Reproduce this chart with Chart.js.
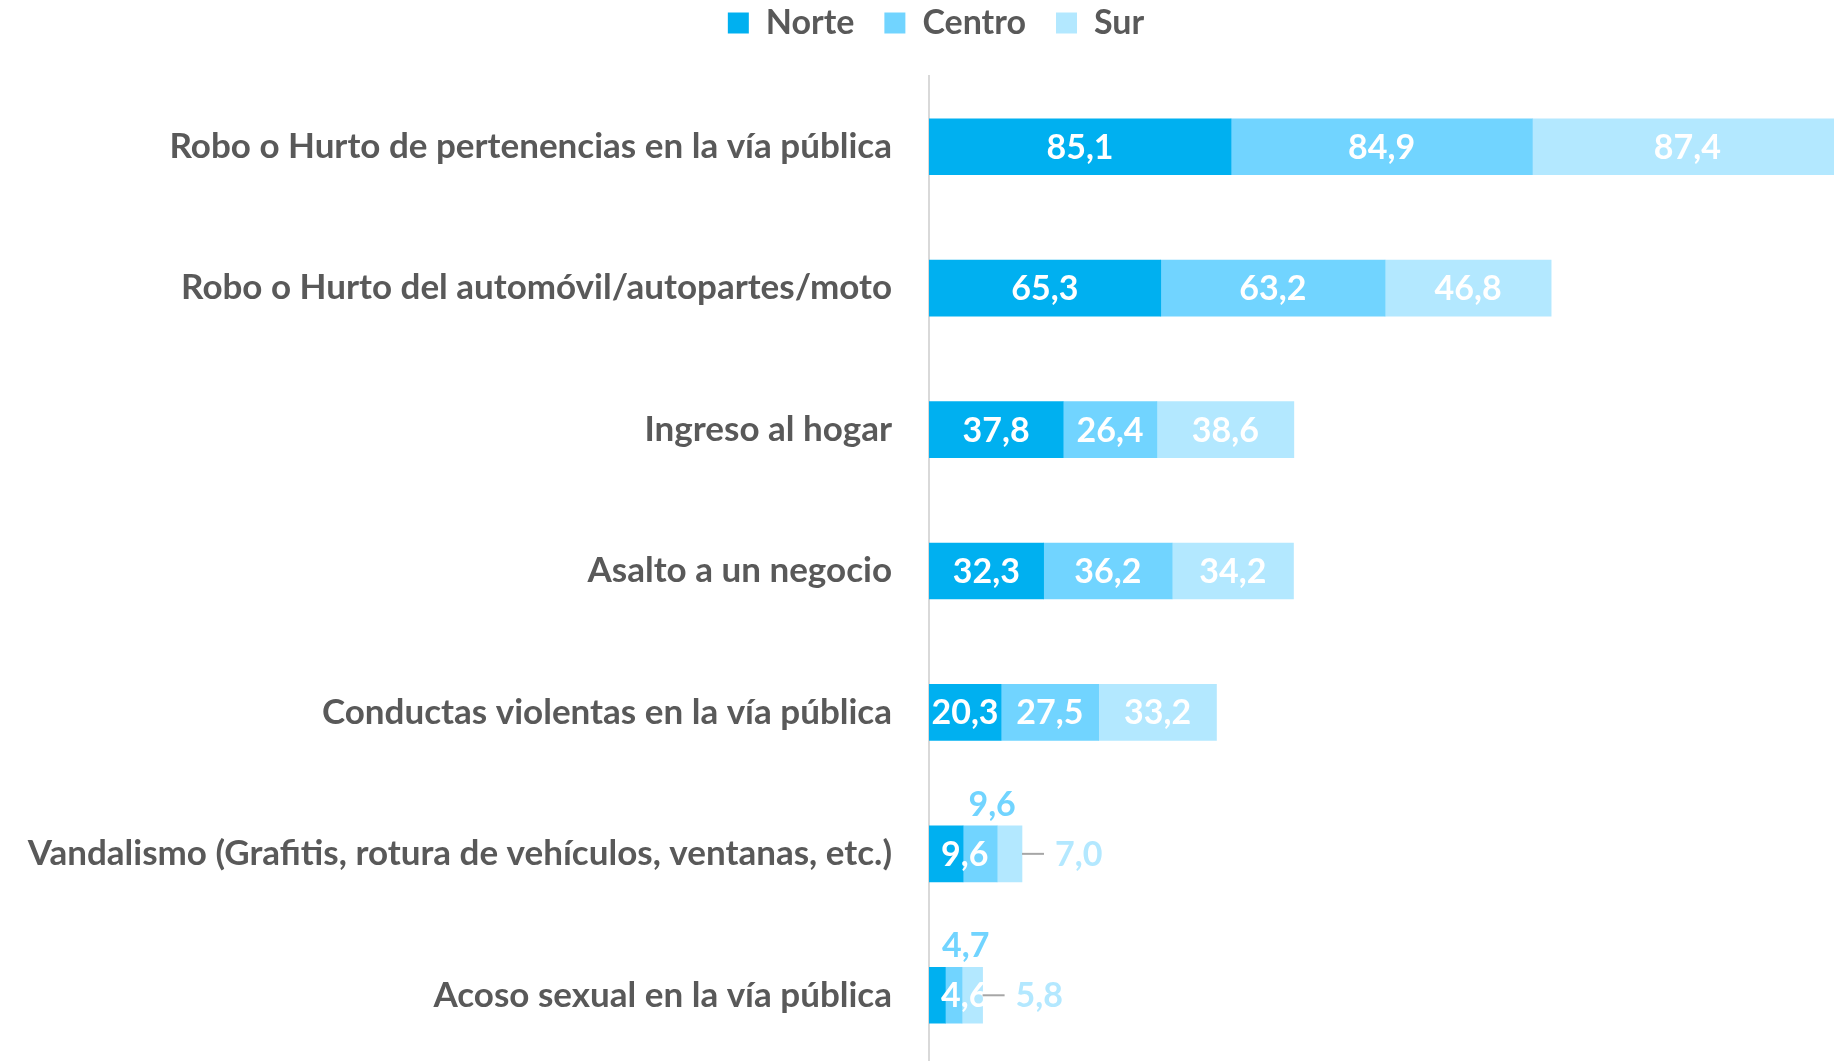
<!DOCTYPE html>
<html lang="es">
<head>
<meta charset="utf-8">
<title>Delitos por zona</title>
<script src="https://cdn.jsdelivr.net/npm/chart.js@4.4.1/dist/chart.umd.min.js"></script>
<style>
    html, body { margin: 0; padding: 0; background: #ffffff; overflow: hidden; }
    #wrap { width: 1834px; height: 1066px; }
</style>
</head>
<body>
<div id="wrap"><canvas id="chart-zonas" width="1834" height="1066"></canvas></div>
<script>
// --- Datos ---
const categorias = [
    'Robo o Hurto de pertenencias en la vía pública',
    'Robo o Hurto del automóvil/autopartes/moto',
    'Ingreso al hogar',
    'Asalto a un negocio',
    'Conductas violentas en la vía pública',
    'Vandalismo (Grafitis, rotura de vehículos, ventanas, etc.)',
    'Acoso sexual en la vía pública'
];
const zonas = ['Norte', 'Centro', 'Sur'];
const valoresNorte = [85.1, 65.3, 37.8, 32.3, 20.3, 9.6, 4.6];
const valoresCentro = [84.9, 63.2, 26.4, 36.2, 27.5, 9.6, 4.7];
const valoresSur = [87.4, 46.8, 38.6, 34.2, 33.2, 7.0, 5.8];

// --- Estilos ---
const COLORES = ['#00b0f0', '#71d4ff', '#b3e8ff'];
const GRIS_TEXTO = '#595959';
const FUENTE = "Lato, 'Open Sans', sans-serif";
const TAM = 35;
const TAM_DATOS = 34;

Chart.defaults.font.family = FUENTE;
Chart.defaults.color = GRIS_TEXTO;

const formato = (v) => v.toFixed(1).replace('.', ',');

// Sube la leyenda y la corre un poco a la derecha (como en el original)
const leyendaPlugin = {
    id: 'moverLeyenda',
    afterLayout(chart) {
        const lg = chart.legend;
        lg.top -= 24; lg.bottom -= 24;
        lg.left += 19; lg.right += 19;
    }
};

// Etiquetas de datos (sin plugin externo)
const etiquetasPlugin = {
    id: 'etiquetas',
    afterDatasetsDraw(chart) {
        const ctx = chart.ctx;
        ctx.save();
        ctx.font = `bold ${TAM_DATOS}px ${FUENTE}`;
        ctx.textBaseline = 'middle';
        chart.data.datasets.forEach((ds, di) => {
            const meta = chart.getDatasetMeta(di);
            meta.data.forEach((bar, i) => {
                const { x, base, y, height } = bar.getProps(['x', 'base', 'y', 'height'], true);
                const txt = formato(ds.data[i]);
                const w = ctx.measureText(txt).width;
                const ancho = x - base;
                if (ancho >= w + 4) {
                    ctx.textAlign = 'center';
                    ctx.fillStyle = '#ffffff';
                    ctx.fillText(txt, (x + base) / 2, y + 1);
                } else if (di === 0) {
                    // no cabe: se corre un poco hacia la derecha
                    ctx.textAlign = 'center';
                    ctx.fillStyle = '#ffffff';
                    ctx.fillText(txt, base + w / 2 + 12, y + 1);
                } else if (di === 1) {
                    // encima de la barra
                    ctx.textAlign = 'center';
                    ctx.fillStyle = COLORES[1];
                    ctx.fillText(txt, (x + base) / 2 + 12, y - height / 2 - 21);
                } else {
                    // línea guía + etiqueta a la derecha
                    ctx.strokeStyle = '#a6a6a6';
                    ctx.lineWidth = 2;
                    ctx.beginPath();
                    ctx.moveTo(x, y);
                    ctx.lineTo(x + 22, y);
                    ctx.stroke();
                    ctx.textAlign = 'left';
                    ctx.fillStyle = COLORES[2];
                    ctx.fillText(txt, x + 33, y + 1);
                }
            });
        });
        ctx.restore();
    }
};

const canvas = document.getElementById('chart-zonas');
new Chart(canvas.getContext('2d'), {
    type: 'bar',
    data: {
        labels: categorias,
        datasets: [
            { label: zonas[0], data: valoresNorte, backgroundColor: COLORES[0] },
            { label: zonas[1], data: valoresCentro, backgroundColor: COLORES[1] },
            { label: zonas[2], data: valoresSur, backgroundColor: COLORES[2] }
        ]
    },
    options: {
        indexAxis: 'y',
        responsive: false,
        animation: false,
        layout: { padding: 0 },
        datasets: { bar: { barThickness: 56, borderWidth: 0 } },
        plugins: {
            legend: {
                position: 'top',
                labels: {
                    boxWidth: 21,
                    boxHeight: 21,
                    padding: 30,
                    color: GRIS_TEXTO,
                    font: { size: 34, weight: 'bold' }
                }
            },
            tooltip: { enabled: false }
        },
        scales: {
            x: {
                stacked: true,
                position: 'top',
                min: 0,
                max: 255,
                grid: { display: false, drawTicks: false },
                border: { display: false },
                ticks: { display: false },
                afterFit: (s) => { s.height = 2; }
            },
            y: {
                stacked: true,
                grid: { display: false, drawTicks: false },
                border: { display: true, color: '#d9d9d9', width: 2 },
                ticks: {
                    padding: 37,
                    color: GRIS_TEXTO,
                    font: { size: TAM, weight: 'bold' },
                    autoSkip: false
                },
                afterFit: (s) => {
                    s.width = 929;
                    s.paddingTop = 0;
                    s.paddingBottom = 0;
                }
            }
        }
    },
    plugins: [leyendaPlugin, etiquetasPlugin]
});
</script>
</body>
</html>
